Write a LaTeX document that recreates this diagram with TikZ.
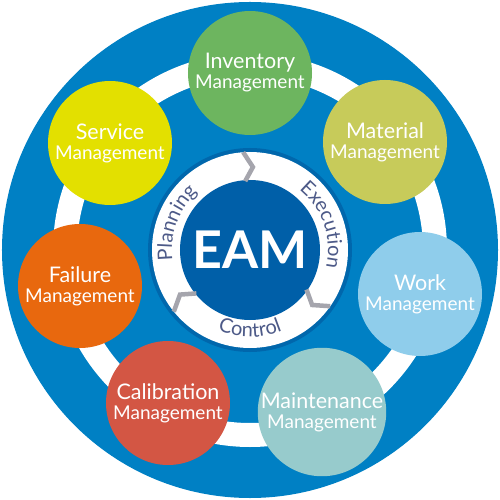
\documentclass[tikz,border=0pt]{standalone}
\usepackage{fontspec}
\setmainfont{Lato}
\usetikzlibrary{decorations.text}
\definecolor{wheelblue}{HTML}{0080C4}
\definecolor{hubborder}{HTML}{0067AC}
\definecolor{hubblue}{HTML}{005FA8}
\definecolor{chevgray}{HTML}{A5A5AD}
\definecolor{cycletext}{HTML}{4D5A88}
\definecolor{invgreen}{HTML}{6DB55F}
\definecolor{matolive}{HTML}{C7CB5A}
\definecolor{worksky}{HTML}{8FCDEB}
\definecolor{mainteal}{HTML}{97CBCC}
\definecolor{calibred}{HTML}{D35644}
\definecolor{failorange}{HTML}{E8680E}
\definecolor{servyellow}{HTML}{E3E000}
\newcommand\cyclefont{\fontsize{20}{20}\selectfont}
\newcommand\firstline[1]{{\fontsize{21.5}{20}\selectfont #1}}
\begin{document}
\begin{tikzpicture}[x=1pt, y=1pt,
  mgmt/.style={circle, inner sep=0pt, minimum size=124pt, text=white, align=center, font=\fontsize{19}{20}\selectfont},
  chev/.style={draw=chevgray, line width=4.5pt},
  cycle/.style={decorate, decoration={text along path, text align=center, text color=cycletext}}]
\useasboundingbox (-250,-250) rectangle (250,250);
\fill[wheelblue] (0,0) circle[radius=248pt];
\draw[white, line width=24pt] (0,0) circle[radius=185pt];
\fill[hubborder] (0,0) circle[radius=102pt];
\fill[white] (0,0) circle[radius=98pt];
\node[circle, inner sep=0pt, minimum size=140pt, fill=hubblue, text=white, font=\bfseries\fontsize{52}{52}\selectfont] (eam) at (0,0) {EAM};
\draw[chev] (94:98) -- (88:83) -- (94:69);
\draw[chev] (219:98) -- (212.5:83) -- (219:69);
\draw[chev] (-35:98) -- (-41.5:83) -- (-35:69);
\path[cycle, decoration={text={|\cyclefont|Planning}}] (195:78) arc[start angle=195, end angle=125, radius=78pt];
\path[cycle, decoration={text={|\cyclefont|Execution}}] (56:78) arc[start angle=56, end angle=-18, radius=78pt];
\path[cycle, decoration={text={|\cyclefont|Control}}] (240:87) arc[start angle=240, end angle=300, radius=87pt];
\node[mgmt, fill=invgreen] (inv) at (0,177) {\firstline{Inventory}\\Management};
\node[mgmt, fill=matolive] (mat) at (135,108) {\firstline{Material}\\Management};
\node[mgmt, fill=worksky] (work) at (170,-44) {\firstline{Work}\\Management};
\node[mgmt, fill=mainteal] (maint) at (72,-162) {\firstline{Maintenance}\\Management};
\node[mgmt, fill=calibred] (calib) at (-82,-153) {\firstline{Calibration}\\Management};
\node[mgmt, fill=failorange] (fail) at (-170,-36) {\firstline{Failure}\\Management};
\node[mgmt, fill=servyellow] (serv) at (-140,107) {\firstline{Service}\\Management};
\end{tikzpicture}
\end{document}
